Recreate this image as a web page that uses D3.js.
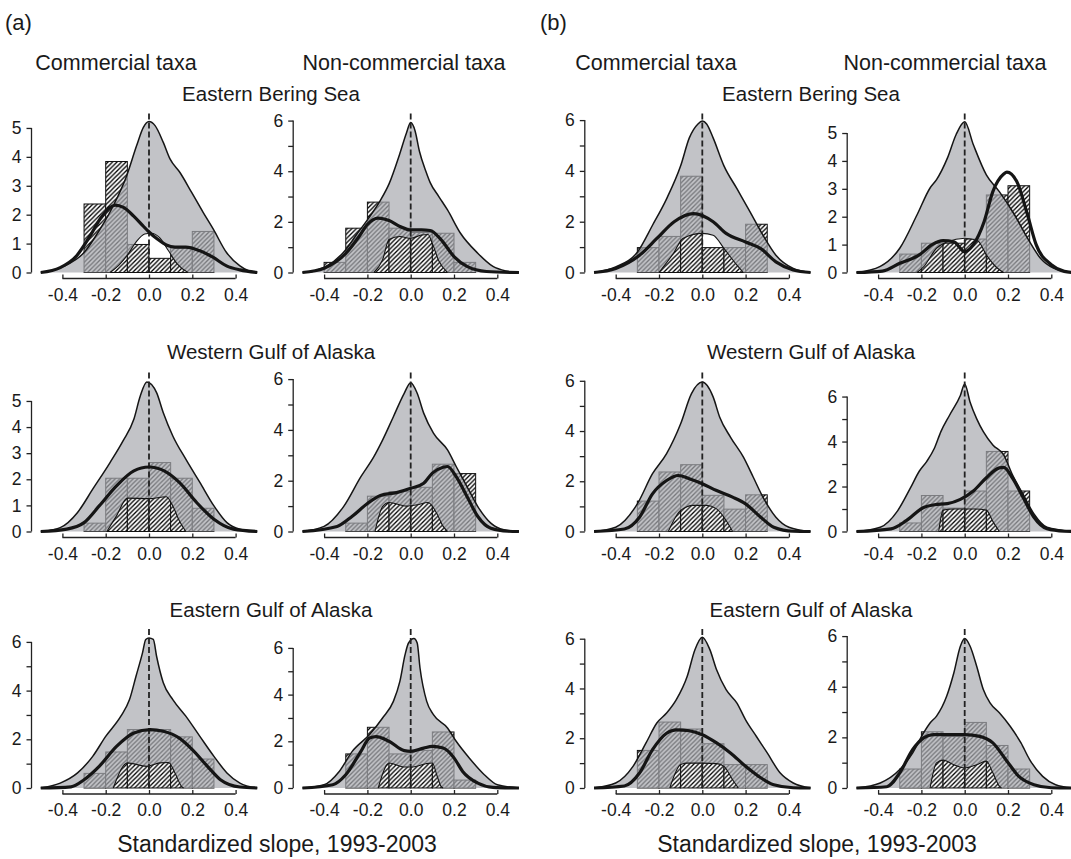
<!DOCTYPE html>
<html>
<head>
<meta charset="utf-8">
<script src="https://cdn.jsdelivr.net/npm/d3@7"></script>
<style>
body { margin: 0; background: #fff; }
svg text { font-family: "Liberation Sans", Arial, sans-serif; fill: #1a1a1a; }
</style>
</head>
<body>
<svg id="chart" width="1071" height="859"></svg>
<script>
// ---- labels ----
var panelTags = ['(a)', '(b)'];
var groups = ['Commercial taxa', 'Non-commercial taxa'];
var regions = ['Eastern Bering Sea', 'Western Gulf of Alaska', 'Eastern Gulf of Alaska'];
var xTitle = 'Standardized slope, 1993-2003';
var xTicks = [-0.4, -0.2, 0, 0.2, 0.4];
var binStart = [-0.4, -0.3, -0.2, -0.1, 0, 0.1, 0.2];

// ---- histogram heights (per bin in binStart) ----
var ebsComA_bars = [0, 2.37, 3.84, 0.97, 0.49, 0.85, 1.42];
var ebsNonA_bars = [0.4, 1.75, 2.78, 1.75, 1.58, 1.55, 0.4];
var ebsComB_bars = [0, 0.98, 1.42, 3.79, 0.98, 0.98, 1.9];
var ebsNonB_bars = [0, 0.66, 1.05, 1.05, 1.2, 2.78, 3.11];
var wgoaComA_bars = [0, 0.32, 2.04, 2.04, 2.64, 2.04, 0.89];
var wgoaNonA_bars = [0, 0.33, 1.39, 1.57, 1.74, 2.65, 2.28];
var wgoaComB_bars = [0, 1.21, 2.37, 2.66, 1.44, 0.89, 1.46];
var wgoaNonB_bars = [0, 0.38, 1.6, 1.04, 1.8, 3.56, 1.8];
var egoaComA_bars = [0, 0.6, 1.48, 2.4, 2.4, 2.1, 1.19];
var egoaNonA_bars = [0, 1.46, 2.6, 1.46, 1.61, 2.4, 0.34];
var egoaComB_bars = [0, 1.51, 2.65, 2.37, 1.78, 0.94, 0.94];
var egoaNonB_bars = [0, 0.75, 2.22, 2.04, 2.59, 1.68, 0.75];

// ---- grey reference densities [slope, density] ----
var ebsComA_grey = [[-0.5,0],[-0.45,0.06],[-0.395,0.21],[-0.3,0.69],[-0.226,1.5],[-0.165,2.31],[-0.103,3.35],[-0.057,4.39],[-0.026,5.02],[0,5.22],[0.028,5.08],[0.066,4.5],[0.097,3.93],[0.143,3.46],[0.197,2.77],[0.25,2.08],[0.297,1.5],[0.358,0.69],[0.42,0.23],[0.46,0.06],[0.5,0]];
var ebsNonA_grey = [[-0.5,0],[-0.45,0.05],[-0.39,0.24],[-0.3,0.9],[-0.25,1.5],[-0.2,2.08],[-0.14,2.85],[-0.1,3.5],[-0.05,4.7],[-0.02,5.5],[0,5.92],[0.02,5.6],[0.04,4.8],[0.07,4.0],[0.09,3.55],[0.13,3.0],[0.17,2.47],[0.23,1.55],[0.31,0.76],[0.38,0.24],[0.44,0.06],[0.5,0]];
var ebsComB_grey = [[-0.5,0],[-0.4,0.22],[-0.3,0.8],[-0.23,1.86],[-0.165,2.9],[-0.1,4.2],[-0.06,5.3],[-0.02,5.85],[0,5.96],[0.02,5.85],[0.05,5.3],[0.1,4.2],[0.16,3.3],[0.22,2.4],[0.28,1.47],[0.34,0.68],[0.42,0.16],[0.5,0]];
var ebsNonB_grey = [[-0.5,0],[-0.39,0.22],[-0.3,0.87],[-0.22,2.07],[-0.16,3.03],[-0.13,3.33],[-0.08,4.1],[-0.04,4.94],[0,5.4],[0.04,4.58],[0.1,3.5],[0.16,2.9],[0.23,2.07],[0.29,1.23],[0.35,0.51],[0.41,0.16],[0.5,0]];
var wgoaComA_grey = [[-0.5,0],[-0.41,0.15],[-0.33,0.73],[-0.26,1.62],[-0.18,2.64],[-0.12,3.47],[-0.07,4.3],[-0.04,5.2],[-0.01,5.73],[0.035,5.32],[0.066,4.55],[0.11,3.66],[0.17,2.77],[0.235,1.88],[0.3,0.98],[0.36,0.34],[0.42,0.09],[0.5,0]];
var wgoaNonA_grey = [[-0.5,0],[-0.4,0.2],[-0.31,0.98],[-0.23,2.16],[-0.17,2.95],[-0.13,3.6],[-0.08,4.52],[-0.03,5.44],[0,5.86],[0.03,5.44],[0.06,4.66],[0.105,3.87],[0.17,3.21],[0.21,2.56],[0.26,1.77],[0.31,0.98],[0.37,0.33],[0.43,0.07],[0.5,0]];
var wgoaComB_grey = [[-0.5,0],[-0.4,0.17],[-0.3,1.1],[-0.23,2.3],[-0.165,3.1],[-0.1,4.29],[-0.05,5.49],[0,5.95],[0.05,5.36],[0.08,4.56],[0.13,3.76],[0.19,2.96],[0.235,2.17],[0.28,1.37],[0.34,0.57],[0.4,0.17],[0.5,0]];
var wgoaNonB_grey = [[-0.5,0],[-0.39,0.19],[-0.31,0.92],[-0.25,1.95],[-0.21,2.68],[-0.175,3.12],[-0.14,3.7],[-0.11,4.44],[-0.07,5.17],[-0.02,6.05],[0,6.56],[0.025,5.75],[0.055,5.02],[0.086,4.44],[0.13,3.85],[0.18,3.41],[0.22,2.53],[0.27,1.65],[0.32,0.78],[0.38,0.19],[0.5,0]];
var egoaComA_grey = [[-0.5,0],[-0.41,0.2],[-0.33,0.62],[-0.26,1.3],[-0.2,2.12],[-0.13,2.95],[-0.09,3.63],[-0.06,4.59],[-0.03,5.55],[-0.015,6.1],[0,6.16],[0.02,6.1],[0.035,5.41],[0.066,4.32],[0.11,3.63],[0.17,2.95],[0.235,2.12],[0.3,1.3],[0.36,0.62],[0.42,0.2],[0.5,0]];
var egoaNonA_grey = [[-0.5,0],[-0.4,0.14],[-0.33,0.71],[-0.27,1.57],[-0.19,2.29],[-0.13,3.0],[-0.08,3.71],[-0.05,4.57],[-0.026,5.71],[-0.01,6.21],[0.015,6.4],[0.03,6.21],[0.043,5.14],[0.074,3.71],[0.105,3.14],[0.17,2.57],[0.21,2.0],[0.27,1.29],[0.34,0.57],[0.4,0.14],[0.5,0]];
var egoaComB_grey = [[-0.5,0],[-0.4,0.2],[-0.32,0.87],[-0.26,1.81],[-0.21,2.61],[-0.165,3.01],[-0.12,3.55],[-0.07,4.48],[-0.034,5.56],[0,6.06],[0.035,5.56],[0.066,4.75],[0.11,3.95],[0.16,3.41],[0.2,2.74],[0.25,2.07],[0.3,1.41],[0.36,0.6],[0.42,0.2],[0.5,0]];
var egoaNonB_grey = [[-0.5,0],[-0.39,0.2],[-0.3,0.73],[-0.24,1.39],[-0.19,2.18],[-0.16,2.57],[-0.13,2.84],[-0.083,3.63],[-0.05,4.55],[-0.02,5.6],[0,5.9],[0.025,5.6],[0.055,4.82],[0.086,3.89],[0.117,3.36],[0.16,2.97],[0.21,2.44],[0.26,1.78],[0.3,1.12],[0.36,0.46],[0.42,0.13],[0.5,0]];

// ---- smoothed density of the histogram (thick line) ----
var ebsComA_kern = [[-0.5,0],[-0.41,0.17],[-0.334,0.58],[-0.272,1.27],[-0.226,1.85],[-0.18,2.25],[-0.157,2.33],[-0.118,2.25],[-0.072,1.96],[-0.026,1.6],[0,1.4],[0.04,1.15],[0.08,0.95],[0.12,0.88],[0.17,0.88],[0.235,0.75],[0.297,0.52],[0.358,0.23],[0.42,0.09],[0.5,0]];
var ebsNonA_kern = [[-0.5,0],[-0.4,0.17],[-0.3,0.75],[-0.24,1.4],[-0.2,1.9],[-0.15,2.15],[-0.1,2.05],[-0.05,1.82],[0,1.68],[0.05,1.68],[0.09,1.66],[0.14,1.3],[0.2,0.63],[0.26,0.24],[0.35,0.04],[0.5,0]];
var ebsComB_kern = [[-0.5,0],[-0.4,0.16],[-0.29,0.68],[-0.21,1.34],[-0.13,2.0],[-0.04,2.32],[0.05,2.0],[0.11,1.54],[0.2,1.2],[0.27,0.94],[0.34,0.42],[0.42,0.1],[0.5,0]];
var ebsNonB_kern = [[-0.5,0],[-0.38,0.05],[-0.3,0.33],[-0.21,0.63],[-0.15,1.0],[-0.1,1.14],[-0.05,1.1],[0,0.75],[0.04,1.0],[0.09,1.83],[0.13,2.9],[0.18,3.53],[0.195,3.6],[0.24,3.27],[0.29,2.07],[0.33,1.0],[0.4,0.28],[0.46,0.04],[0.5,0]];
var wgoaComA_kern = [[-0.5,0],[-0.38,0.09],[-0.3,0.34],[-0.23,0.98],[-0.15,1.75],[-0.07,2.32],[0,2.47],[0.07,2.32],[0.14,1.88],[0.22,1.11],[0.3,0.47],[0.39,0.09],[0.5,0]];
var wgoaNonA_kern = [[-0.5,0],[-0.34,0.2],[-0.27,0.6],[-0.2,1.1],[-0.14,1.42],[-0.065,1.53],[0,1.7],[0.06,1.9],[0.1,2.3],[0.15,2.53],[0.17,2.56],[0.21,2.16],[0.26,1.38],[0.31,0.59],[0.37,0.13],[0.45,0.01],[0.5,0]];
var wgoaComB_kern = [[-0.5,0],[-0.36,0.1],[-0.29,0.57],[-0.23,1.5],[-0.165,2.03],[-0.11,2.23],[-0.06,2.1],[0,1.9],[0.066,1.63],[0.14,1.37],[0.2,1.1],[0.27,0.57],[0.33,0.17],[0.42,0.01],[0.5,0]];
var wgoaNonB_kern = [[-0.5,0],[-0.34,0.12],[-0.27,0.48],[-0.19,1.07],[-0.14,1.19],[-0.08,1.24],[-0.02,1.43],[0.04,1.8],[0.1,2.39],[0.16,2.83],[0.18,2.85],[0.22,2.39],[0.27,1.51],[0.32,0.63],[0.38,0.12],[0.46,0.01],[0.5,0]];
var egoaComA_kern = [[-0.5,0],[-0.36,0.05],[-0.3,0.34],[-0.23,0.89],[-0.15,1.71],[-0.07,2.26],[0.005,2.4],[0.066,2.33],[0.14,2.05],[0.2,1.58],[0.27,0.89],[0.33,0.34],[0.42,0.04],[0.5,0]];
var egoaNonA_kern = [[-0.5,0],[-0.36,0.14],[-0.3,0.57],[-0.23,1.57],[-0.19,2.14],[-0.16,2.2],[-0.1,2.0],[-0.03,1.6],[0,1.57],[0.06,1.71],[0.1,1.78],[0.15,1.71],[0.2,1.29],[0.24,0.71],[0.31,0.21],[0.38,0.03],[0.5,0]];
var egoaComB_kern = [[-0.5,0],[-0.36,0.08],[-0.29,0.6],[-0.23,1.54],[-0.165,2.2],[-0.12,2.34],[-0.06,2.3],[0,2.14],[0.066,1.81],[0.13,1.41],[0.2,0.87],[0.26,0.47],[0.33,0.13],[0.42,0.01],[0.5,0]];
var egoaNonB_kern = [[-0.5,0],[-0.36,0.05],[-0.3,0.6],[-0.24,1.52],[-0.19,1.98],[-0.145,2.11],[-0.07,2.11],[0,2.11],[0.07,2.04],[0.13,1.78],[0.19,1.12],[0.25,0.46],[0.32,0.13],[0.4,0.01],[0.5,0]];

// ---- small (white) subset densities ----
var ebsComA_sub = [[-0.18,0],[-0.14,0.25],[-0.1,0.6],[-0.06,1.05],[-0.02,1.33],[0.01,1.36],[0.05,1.2],[0.09,0.75],[0.13,0.3],[0.18,0]];
var ebsNonA_sub = [[-0.17,0],[-0.13,0.5],[-0.1,1.3],[-0.05,1.42],[0,1.35],[0.05,1.48],[0.08,1.5],[0.1,1.15],[0.13,0.45],[0.17,0]];
var ebsComB_sub = [[-0.2,0],[-0.13,0.8],[-0.09,1.34],[0,1.54],[0.05,1.47],[0.1,0.95],[0.16,0.29],[0.19,0]];
var ebsNonB_sub = [[-0.22,0],[-0.19,0.2],[-0.13,0.87],[-0.08,1.1],[0,1.23],[0.06,1.14],[0.1,0.63],[0.15,0.16],[0.18,0]];
var wgoaComA_sub = [[-0.195,0],[-0.15,0.6],[-0.1,1.28],[0,1.26],[0.08,1.33],[0.11,0.98],[0.14,0.41],[0.17,0]];
var wgoaNonA_sub = [[-0.165,0],[-0.13,0.98],[-0.1,1.14],[-0.02,1.0],[0.03,1.05],[0.08,1.14],[0.12,0.72],[0.15,0.2],[0.17,0]];
var wgoaComB_sub = [[-0.157,0],[-0.1,0.84],[-0.04,1.04],[0.02,1.04],[0.066,0.9],[0.11,0.44],[0.14,0]];
var wgoaNonB_sub = [[-0.12,0],[-0.1,0.95],[-0.05,1.0],[0.05,1.0],[0.1,0.95],[0.13,0.45],[0.16,0]];
var egoaComA_sub = [[-0.165,0],[-0.12,0.89],[-0.1,1.03],[-0.01,0.89],[0.05,1.03],[0.09,1.05],[0.12,0.62],[0.15,0.07],[0.16,0]];
var egoaNonA_sub = [[-0.15,0],[-0.11,1.0],[-0.1,1.07],[-0.03,0.9],[0.01,0.9],[0.07,1.04],[0.1,1.07],[0.12,0.57],[0.14,0.07],[0.15,0]];
var egoaComB_sub = [[-0.15,0],[-0.1,0.94],[-0.07,1.0],[0,1.0],[0.066,0.98],[0.1,0.87],[0.14,0.33],[0.166,0]];
var egoaNonB_sub = [[-0.16,0],[-0.13,0.99],[-0.1,1.1],[-0.05,0.92],[0,0.79],[0.055,0.92],[0.1,1.06],[0.13,0.6],[0.16,0.07],[0.17,0]];

// y domain top and highest tick per panel (rows: EBS, WGOA, EGOA; cols: a-com, a-non, b-com, b-non)
var yDomainMax = [5.5, 6.28, 6.26, 5.7, 6.09, 6.26, 6.33, 7.07, 6.53, 6.81, 6.39, 6.28];
var yTopTick = [5, 6, 6, 5, 5, 6, 6, 6, 6, 6, 6, 6];

var panels = [
	{ bars: ebsComA_bars, grey: ebsComA_grey, kern: ebsComA_kern, sub: ebsComA_sub },
	{ bars: ebsNonA_bars, grey: ebsNonA_grey, kern: ebsNonA_kern, sub: ebsNonA_sub },
	{ bars: ebsComB_bars, grey: ebsComB_grey, kern: ebsComB_kern, sub: ebsComB_sub },
	{ bars: ebsNonB_bars, grey: ebsNonB_grey, kern: ebsNonB_kern, sub: ebsNonB_sub },
	{ bars: wgoaComA_bars, grey: wgoaComA_grey, kern: wgoaComA_kern, sub: wgoaComA_sub },
	{ bars: wgoaNonA_bars, grey: wgoaNonA_grey, kern: wgoaNonA_kern, sub: wgoaNonA_sub },
	{ bars: wgoaComB_bars, grey: wgoaComB_grey, kern: wgoaComB_kern, sub: wgoaComB_sub },
	{ bars: wgoaNonB_bars, grey: wgoaNonB_grey, kern: wgoaNonB_kern, sub: wgoaNonB_sub },
	{ bars: egoaComA_bars, grey: egoaComA_grey, kern: egoaComA_kern, sub: egoaComA_sub },
	{ bars: egoaNonA_bars, grey: egoaNonA_grey, kern: egoaNonA_kern, sub: egoaNonA_sub },
	{ bars: egoaComB_bars, grey: egoaComB_grey, kern: egoaComB_kern, sub: egoaComB_sub },
	{ bars: egoaNonB_bars, grey: egoaNonB_grey, kern: egoaNonB_kern, sub: egoaNonB_sub }
];

// ---- layout ----
var colCenter = [149, 410.7, 702.3, 964.7];
var rowBase = [272.5, 531.5, 788];
var plotH = 159, halfW = 108.25;

var svg = d3.select('#chart');

// hatch pattern: white ground, dark diagonal strokes
var defs = svg.append('defs');
var pat = defs.append('pattern')
	.attr('id', 'hatch')
	.attr('patternUnits', 'userSpaceOnUse')
	.attr('width', 4.5)
	.attr('height', 4.5);
pat.append('rect').attr('width', 4.5).attr('height', 4.5).attr('fill', '#fff');
pat.append('path')
	.attr('d', 'M-1,1 L1,-1 M0,4.5 L4.5,0 M3.5,5.5 L5.5,3.5')
	.attr('stroke', '#000')
	.attr('stroke-width', 1.3);

panels.forEach(function (p, i) {
	var row = Math.floor(i / 4), col = i % 4;
	var cx = colCenter[col], y0 = rowBase[row];

	var x = d3.scaleLinear().domain([-0.5, 0.5]).range([cx - halfW, cx + halfW]);
	var y = d3.scaleLinear().domain([0, yDomainMax[i]]).range([y0, y0 - plotH]);

	var g = svg.append('g').attr('class', 'panel');

	// histogram bars
	var bins = binStart.map(function (s, k) { return { s: s, h: p.bars[k] }; })
		.filter(function (d) { return d.h > 0; });
	g.selectAll('rect.bar')
		.data(bins)
		.enter().append('rect')
		.attr('class', 'bar')
		.attr('x', function (d) { return x(d.s); })
		.attr('width', function (d) { return x(d.s + 0.1) - x(d.s); })
		.attr('y', function (d) { return y(d.h); })
		.attr('height', function (d) { return y(0) - y(d.h); })
		.attr('fill', 'url(#hatch)')
		.attr('stroke', '#111')
		.attr('stroke-width', 1);

	var area = d3.area()
		.x(function (d) { return x(d[0]); })
		.y0(y(0))
		.y1(function (d) { return y(d[1]); })
		.curve(d3.curveMonotoneX);
	var line = d3.line()
		.x(function (d) { return x(d[0]); })
		.y(function (d) { return y(d[1]); })
		.curve(d3.curveMonotoneX);

	// grey density with the subset density cut out of it
	g.append('path')
		.attr('d', area(p.grey) + area(p.sub))
		.attr('fill', 'rgb(168,169,175)')
		.attr('fill-opacity', 0.7)
		.attr('fill-rule', 'evenodd');

	g.append('path')
		.attr('d', line(p.grey))
		.attr('fill', 'none')
		.attr('stroke', '#151515')
		.attr('stroke-width', 1.5);

	g.append('path')
		.attr('d', line(p.sub))
		.attr('fill', 'none')
		.attr('stroke', '#151515')
		.attr('stroke-width', 1.1);

	// dashed zero line
	g.append('line')
		.attr('x1', x(0)).attr('x2', x(0))
		.attr('y1', y0).attr('y2', y0 - plotH)
		.attr('stroke', '#222')
		.attr('stroke-width', 1.8)
		.attr('stroke-dasharray', '6,3');

	// thick smoothed line
	g.append('path')
		.attr('d', line(p.kern))
		.attr('fill', 'none')
		.attr('stroke', '#151515')
		.attr('stroke-width', 3.2)
		.attr('stroke-linejoin', 'round');

	// y axis
	var top = yTopTick[i];
	var step = top === 5 ? 1 : 2;
	var yAxis = d3.axisLeft(y)
		.tickValues(d3.range(0, top + 1))
		.tickFormat(function (v) { return v % step === 0 ? v : ''; })
		.tickSize(5)
		.tickPadding(5);
	var ya = g.append('g')
		.attr('transform', 'translate(' + (cx - 117.5) + ',0)')
		.call(yAxis);
	ya.select('.domain').remove();
	ya.append('line')
		.attr('y1', y(0)).attr('y2', y(top))
		.attr('stroke', '#222').attr('stroke-width', 1.3);
	ya.selectAll('.tick line').attr('stroke', '#222').attr('stroke-width', 1.3);
	ya.selectAll('text').style('font-size', '17.5px').attr('fill', '#1a1a1a');

	// x axis
	var xAxis = d3.axisBottom(x)
		.tickValues(xTicks)
		.tickFormat(function (v) { return v.toFixed(1); })
		.tickSize(-4)
		.tickPadding(10);
	var xa = g.append('g')
		.attr('transform', 'translate(0,' + (y0 + 6) + ')')
		.call(xAxis);
	xa.select('.domain').remove();
	xa.append('line')
		.attr('x1', x(-0.4)).attr('x2', x(0.4))
		.attr('stroke', '#222').attr('stroke-width', 1.3);
	xa.selectAll('.tick line').attr('stroke', '#222').attr('stroke-width', 1.3);
	xa.selectAll('text').style('font-size', '17.5px').attr('fill', '#1a1a1a');
});

// ---- text ----
var tagX = [5, 540];
panelTags.forEach(function (t, k) {
	svg.append('text').attr('x', tagX[k]).attr('y', 30)
		.style('font-size', '22px').text(t);
});

var headX = [116, 404, 656, 945];
headX.forEach(function (hx, k) {
	svg.append('text').attr('x', hx).attr('y', 70)
		.attr('text-anchor', 'middle')
		.style('font-size', '21.5px')
		.text(groups[k % 2]);
});

var regionX = [271, 811];
var regionY = [101, 359, 617];
regions.forEach(function (r, k) {
	regionX.forEach(function (rx) {
		svg.append('text').attr('x', rx).attr('y', regionY[k])
			.attr('text-anchor', 'middle')
			.style('font-size', '20.5px')
			.text(r);
	});
});

[277, 817].forEach(function (tx) {
	svg.append('text').attr('x', tx).attr('y', 852)
		.attr('text-anchor', 'middle')
		.style('font-size', '23px')
		.text(xTitle);
});
</script>
</body>
</html>
